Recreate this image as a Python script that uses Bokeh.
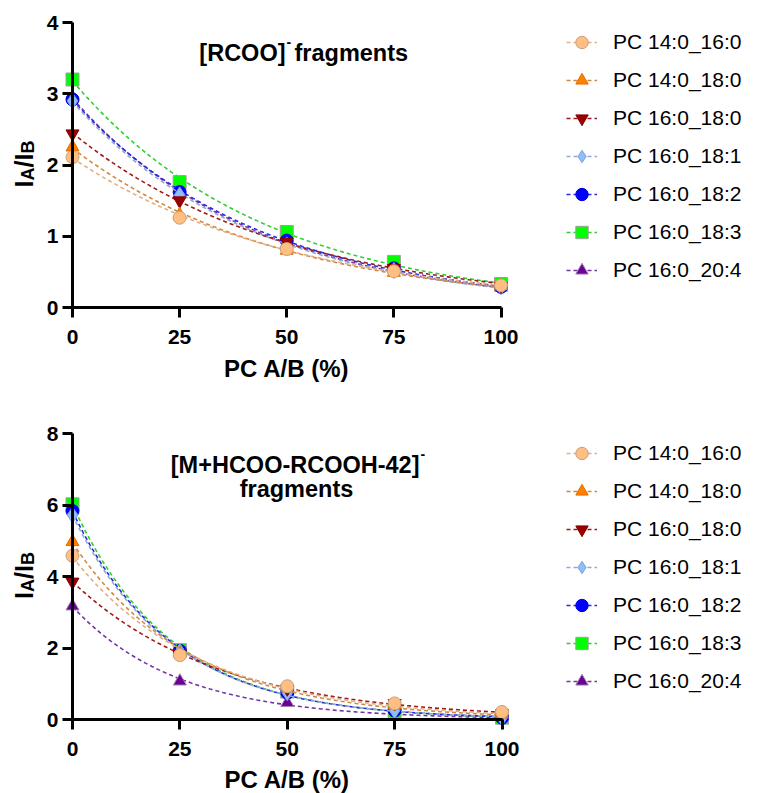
import numpy as np
from bokeh.plotting import figure
from bokeh.models import Label, Legend, LegendItem, Range1d
from bokeh.layouts import column
from bokeh.embed import file_html
from bokeh.resources import INLINE

# ---------------- data ----------------
x_pct = [0, 25, 50, 75, 100]
x_ticks = [0, 25, 50, 75, 100]
series_names = ["PC 14:0_16:0", "PC 14:0_18:0", "PC 16:0_18:0", "PC 16:0_18:1",
                "PC 16:0_18:2", "PC 16:0_18:3", "PC 16:0_20:4"]

# [RCOO]- fragments
top_14_0_16_0 = [2.11, 1.26, 0.82, 0.51, 0.31]
top_14_0_18_0 = [2.25, 1.30, 0.80, 0.49, 0.31]
top_16_0_18_0 = [2.44, 1.50, 0.92, 0.55, 0.30]
top_16_0_18_1 = [2.90, 1.58, 0.88, 0.52, 0.29]
top_16_0_18_2 = [2.92, 1.62, 0.94, 0.55, 0.29]
top_16_0_18_3 = [3.20, 1.76, 1.06, 0.64, 0.33]
top_16_0_20_4 = [2.95, 1.60, 0.90, 0.54, 0.28]
top_y_ticks = [0, 1, 2, 3, 4]

# [M+HCOO-RCOOH-42]- fragments
bot_14_0_16_0 = [4.58, 1.80, 0.93, 0.45, 0.21]
bot_14_0_18_0 = [4.97, 1.85, 0.88, 0.40, 0.15]
bot_16_0_18_0 = [3.85, 1.85, 0.86, 0.45, 0.17]
bot_16_0_18_1 = [5.72, 1.90, 0.75, 0.25, 0.05]
bot_16_0_18_2 = [5.83, 1.92, 0.75, 0.25, 0.05]
bot_16_0_18_3 = [6.02, 1.94, 0.78, 0.25, 0.05]
bot_16_0_20_4 = [3.17, 1.07, 0.47, 0.17, 0.04]
bot_y_ticks = [0, 2, 4, 6, 8]

# ---------------- styles ----------------
markers = ["circle", "triangle", "inverted_triangle", "diamond", "circle", "square", "triangle"]
fills = ["#FFBE82", "#FF7F00", "#990000", "#8FBFF5", "#0000FF", "#00FF00", "#6A0096"]
outlines = ["#C8A080", "#E07000", "#880000", "#7FA0E0", "#0000E0", "#A0A0A0", "#A080B0"]
lines = ["#E2AE80", "#D08840", "#A01818", "#90AAD2", "#2828E0", "#30D030", "#7434A4"]
sizes = [13, 13, 13, 16, 13, 13, 13]

FONT = "Liberation Sans"
W = 762


def fit_curve(xs, ys):
    xs = np.asarray(xs, dtype=float)
    ys = np.asarray(ys, dtype=float)
    coef = np.polyfit(xs, np.log(ys), 1, w=ys)
    xf = np.linspace(0, 100, 201)
    return xf, np.exp(np.polyval(coef, xf))


def make_panel(series, ymax, yticks, height, px_x0, px_x100, px_ytop, px_y0,
               xlabel_off, legend_top):
    # the frame fills the whole figure; axes sit at fixed data locations
    sx = (px_x100 - px_x0) / 100.0
    sy = (px_y0 - px_ytop) / float(ymax)
    xr = Range1d(-px_x0 / sx, (W - px_x0) / sx)
    yr = Range1d(-(height - px_y0) / sy, ymax + px_ytop / sy)
    p = figure(width=W, height=height, output_backend="svg", toolbar_location=None,
               x_range=xr, y_range=yr, min_border=0)
    p.outline_line_color = None
    p.xgrid.visible = False
    p.ygrid.visible = False
    p.background_fill_color = "white"

    for ax in (p.xaxis[0], p.yaxis[0]):
        ax.axis_line_width = 3
        ax.axis_line_color = "black"
        ax.major_tick_line_width = 3
        ax.major_tick_line_color = "black"
        ax.major_tick_out = 10
        ax.major_tick_in = 0
        ax.minor_tick_line_color = None
        ax.major_label_text_font = FONT
        ax.major_label_text_font_size = "21px"
        ax.major_label_text_font_style = "bold"
        ax.major_label_text_color = "black"
        ax.axis_label = None

    p.xaxis.ticker = x_ticks
    p.xaxis.bounds = (0, 100)
    p.xaxis.fixed_location = 0
    p.xaxis.major_label_standoff = 12

    p.yaxis.ticker = yticks
    p.yaxis.bounds = (0, ymax)
    p.yaxis.fixed_location = 0
    p.yaxis.major_label_standoff = 4

    rend = {}
    for i in reversed(range(len(series))):
        ys = series[i]
        xf, yf = fit_curve(x_pct, ys)
        lr = p.line(xf, yf, line_color=lines[i], line_width=1.6, line_dash="4 3")
        sr = p.scatter(x_pct, ys, marker=markers[i], size=sizes[i],
                       fill_color=fills[i], line_color=outlines[i], line_width=1)
        rend[i] = (lr, sr)
    items = [LegendItem(label=series_names[i], renderers=list(rend[i]))
             for i in range(len(series))]

    n = len(series)
    row_h = 38
    leg = Legend(items=items, location=(566, height - legend_top - n * row_h),
                 orientation="vertical",
                 glyph_width=31, glyph_height=row_h, label_height=row_h, spacing=0,
                 padding=0, margin=0, label_standoff=16,
                 label_text_font=FONT, label_text_font_size="21px",
                 label_text_color="black",
                 border_line_color=None, background_fill_alpha=0)
    p.add_layout(leg, "center")

    # x axis title
    p.add_layout(Label(x=50, y=0, y_offset=xlabel_off, text="PC A/B (%)",
                       text_align="center", text_baseline="alphabetic",
                       text_font=FONT, text_font_size="24px", text_font_style="bold",
                       text_color="black"))

    # y axis title: I_A/I_B built from real text pieces
    yc = ymax / 2.0
    pieces = [("I", 25, -22.5, -49), ("A", 18, -15.5, -45), ("/", 25, -2.5, -49),
              ("I", 25, 4.5, -49), ("B", 18, 11.5, -45)]
    for txt, fs, s, xo in pieces:
        p.add_layout(Label(x=0, y=yc, x_offset=xo, y_offset=s, text=txt,
                           angle=np.pi / 2, text_align="left", text_baseline="alphabetic",
                           text_font=FONT, text_font_size=f"{fs}px",
                           text_font_style="bold", text_color="black"))
    return p


top_series = [top_14_0_16_0, top_14_0_18_0, top_16_0_18_0, top_16_0_18_1,
              top_16_0_18_2, top_16_0_18_3, top_16_0_20_4]
bot_series = [bot_14_0_16_0, bot_14_0_18_0, bot_16_0_18_0, bot_16_0_18_1,
              bot_16_0_18_2, bot_16_0_18_3, bot_16_0_20_4]

p1 = make_panel(top_series, 4, top_y_ticks, 398, 72, 500.5, 22, 307, -61, 23)
p2 = make_panel(bot_series, 8, bot_y_ticks, 395, 72, 501.5, 35, 321, -60, 36)


def add_text(p, ytop, txt, xo, yo, fs, align="left"):
    p.add_layout(Label(x=0, y=ytop, x_offset=xo, y_offset=yo, text=txt,
                       text_align=align, text_baseline="alphabetic",
                       text_font=FONT, text_font_size=fs, text_font_style="bold",
                       text_color="black"))


# titles
add_text(p1, 4, "[RCOO]", 213, -30, "23.5px", "right")
add_text(p1, 4, "-", 214, -19, "14px", "left")
add_text(p1, 4, "fragments", 222, -30, "23.5px", "left")

add_text(p2, 8, "[M+HCOO-RCOOH-42]", 347, -31, "23.5px", "right")
add_text(p2, 8, "-", 348, -20, "14px", "left")
add_text(p2, 8, "fragments", 224, -55, "23.5px", "center")

layout = column(p1, p2, spacing=0)
open("out.html", "w").write(file_html(layout, INLINE))
